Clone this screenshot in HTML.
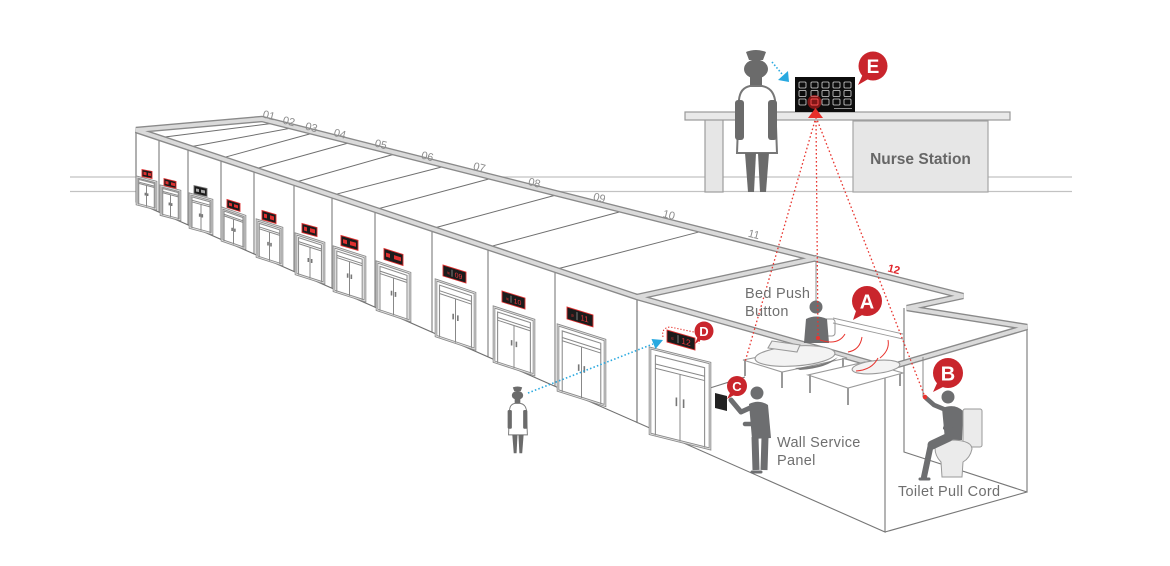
<!DOCTYPE html>
<html><head><meta charset="utf-8"><style>
html,body{margin:0;padding:0;background:#fff;}
svg{display:block;font-family:"Liberation Sans",sans-serif;}
</style></head><body>
<svg width="1170" height="566" viewBox="0 0 1170 566" xmlns="http://www.w3.org/2000/svg">
<defs>
<g id="door">
<rect x="0" y="0" width="1" height="1" fill="#fff" stroke="#8a8a8a" stroke-width="2.6" vector-effect="non-scaling-stroke"/>
<rect x="0" y="0" width="1" height="1" fill="none" stroke="#e2e2e2" stroke-width="0.9" vector-effect="non-scaling-stroke"/>
<path d="M0.09,1V0.07H0.91V1" fill="none" stroke="#8f8f8f" stroke-width="1.1" vector-effect="non-scaling-stroke"/>
<path d="M0.09,0.17H0.91M0.09,0.22H0.91M0.5,0.22V1" fill="none" stroke="#888" stroke-width="1" vector-effect="non-scaling-stroke"/>
<path d="M0.44,0.5V0.6M0.56,0.5V0.6" stroke="#777" stroke-width="1.6" vector-effect="non-scaling-stroke"/>
</g>
<g id="nurse">
<path d="M746,52 Q756,48 766,52 L763,60 L749,60 Z" fill="#6b6b6b"/>
<ellipse cx="756" cy="69" rx="12" ry="9.5" fill="#6b6b6b"/>
<rect x="750" y="75" width="12" height="11" fill="#6b6b6b"/>
<path d="M737,153 L739,100 Q740,88 750,86 L762,86 Q773,88 775,100 L777,153 Z" fill="#fff" stroke="#777" stroke-width="2"/>
<rect x="735" y="100" width="9" height="40" rx="3" fill="#6b6b6b"/>
<rect x="768" y="100" width="9" height="40" rx="3" fill="#6b6b6b"/>
<polygon points="745,153 756,153 754,192 748,192" fill="#6b6b6b"/>
<polygon points="758,153 769,153 766,192 760,192" fill="#6b6b6b"/>
</g>
</defs>

<!-- horizon lines -->
<path d="M70,177H1072M70,191.5H1072" stroke="#c2c2c2" stroke-width="1.2"/>

<!-- nurse station -->
<rect x="705" y="119" width="18" height="73" fill="#e6e6e6" stroke="#9d9d9d" stroke-width="1.2"/>
<rect x="853" y="121" width="135" height="71" fill="#e6e6e6" stroke="#a5a5a5" stroke-width="1.2"/>
<text x="920.5" y="164" font-size="15.5" font-weight="bold" fill="#666" text-anchor="middle">Nurse Station</text>
<rect x="685" y="112" width="325" height="8" fill="#e9e9e9" stroke="#999" stroke-width="1.2"/>
<use href="#nurse"/>
<!-- monitor -->
<rect x="795" y="77" width="60" height="35" fill="#0d0d0d"/>
<g fill="none" stroke="#d8d8d8" stroke-width="0.8">
<rect x="799" y="82" width="7" height="6" rx="1"/><rect x="811" y="82" width="7" height="6" rx="1"/><rect x="822" y="82" width="7" height="6" rx="1"/><rect x="833" y="82" width="7" height="6" rx="1"/><rect x="844" y="82" width="7" height="6" rx="1"/>
<rect x="799" y="90.5" width="7" height="6" rx="1"/><rect x="811" y="90.5" width="7" height="6" rx="1"/><rect x="822" y="90.5" width="7" height="6" rx="1"/><rect x="833" y="90.5" width="7" height="6" rx="1"/><rect x="844" y="90.5" width="7" height="6" rx="1"/>
<rect x="799" y="99" width="7" height="6" rx="1"/><rect x="822" y="99" width="7" height="6" rx="1"/><rect x="833" y="99" width="7" height="6" rx="1"/><rect x="844" y="99" width="7" height="6" rx="1"/>
</g>
<circle cx="814.5" cy="102" r="7" fill="#e02020" opacity="0.55"/>
<rect x="811" y="99" width="7" height="6" rx="1" fill="none" stroke="#ff5050" stroke-width="0.9"/>
<path d="M834,108.5H852" stroke="#bbb" stroke-width="0.8"/>
<polygon points="808,118 823,118 815.5,108" fill="#e8302b"/>
<!-- blue arrow top -->
<path d="M772,62 L782,74" stroke="#29a9e0" stroke-width="1.6" stroke-dasharray="1.5 2"/>
<polygon points="789,82 778,80 788,71" fill="#29a9e0"/>
<!-- bubble E -->
<circle cx="873" cy="66" r="14.5" fill="#c9252c"/>
<polygon points="863,74 870,78 858,85" fill="#c9252c"/>
<text x="873" y="73" font-size="19" font-weight="bold" fill="#fff" text-anchor="middle">E</text>

<!-- corridor building -->
<polygon points="136,130 637,297 637,422.4 136,202" fill="#fff" stroke="#6f6f6f" stroke-width="1.1"/>
<polygon points="136,130 262,119 817,258 637,297" fill="#fff"/>
<g stroke="#6f6f6f" stroke-width="1" fill="none">
<path d="M159,137.7L277,122.8M188,147.3L295,127.4M221,158.3L315,132.5M254,169.3L352,142M294,182.6L397,153.4M332,195.3L446,165.9M375,209.6L493,177.9M432,228.6L558,194.5M488,247.2L623,211M555,269.5L702,231.2"/>
<path d="M159,137.7V212.1M188,147.3V224.9M221,158.3V239.4M254,169.3V253.9M294,182.6V271.5M332,195.3V288.2M375,209.6V307.2M432,228.6V332.2M488,247.2V356.9M555,269.5V386.4"/>
</g>

<!-- room 12 walls -->
<g stroke="#777" stroke-width="1.1" fill="none">
<path d="M637,297V422.4L885,532V368"/>
<path d="M904,308V452L1027,492V327"/>
<path d="M885,532L1027,492"/>
<path d="M710,388L745,377"/>
<path d="M816,260V305" stroke="#999"/>
</g>

<!-- roof bands -->
<g fill="none" stroke-linejoin="miter">
<path d="M136,130L262,119L963,296L907,308L1027,327L887,368L637,297Z M637,297L817,258" stroke="#8a8a8a" stroke-width="6.5"/>
<path d="M136,130L262,119L963,296L907,308L1027,327L887,368L637,297Z M637,297L817,258" stroke="#dadada" stroke-width="3.8"/>
</g>

<!-- doors -->
<use href="#door" transform="matrix(19,5,0,27.1,137,177)"/>
<use href="#door" transform="matrix(19,5,0,28.7,161,186)"/>
<use href="#door" transform="matrix(22,6,0,33.6,190,194)"/>
<use href="#door" transform="matrix(23,8,0,32.4,222,208)"/>
<use href="#door" transform="matrix(25,8,0,36.7,257,220)"/>
<use href="#door" transform="matrix(28,9,0,40,296,234)"/>
<use href="#door" transform="matrix(31,10,0,43.9,334,247)"/>
<use href="#door" transform="matrix(33,11,0,47.8,377,262)"/>
<use href="#door" transform="matrix(39,13,0,56.1,436,280)"/>
<use href="#door" transform="matrix(40,13,0,54.7,494,307)"/>
<use href="#door" transform="matrix(47,15,0,65.5,558,325)"/>
<use href="#door" transform="matrix(60,15,0,85.9,650,348)"/>

<!-- signs -->
<g stroke="#e03030" stroke-width="0.9" fill="#1b1b1b">
<g transform="translate(142,169.5) skewY(11)"><rect width="10" height="7"/><rect x="1.5" y="2" width="3" height="3" fill="#e03030" stroke="none"/><rect x="6" y="2" width="3" height="3" fill="#e03030" stroke="none"/></g>
<g transform="translate(164,178.5) skewY(14)"><rect width="12" height="7"/><rect x="1.5" y="2" width="3" height="3" fill="#e03030" stroke="none"/><rect x="7" y="2" width="4" height="3" fill="#e03030" stroke="none"/></g>
<g transform="translate(194,185.5) skewY(13)"><rect width="13" height="8" stroke="#777"/><rect x="2" y="2.5" width="3" height="3" fill="#aaa" stroke="none"/><rect x="7" y="2.5" width="4" height="3" fill="#aaa" stroke="none"/></g>
<g transform="translate(227,199.5) skewY(17)"><rect width="13" height="8"/><rect x="2" y="2.5" width="3" height="3" fill="#e03030" stroke="none"/><rect x="7" y="2.5" width="4" height="3" fill="#e03030" stroke="none"/></g>
<g transform="translate(262,210.5) skewY(16)"><rect width="14" height="9"/><rect x="2" y="2.5" width="3" height="4" fill="#e03030" stroke="none"/><rect x="8" y="2.5" width="4" height="4" fill="#e03030" stroke="none"/></g>
<g transform="translate(302,223.5) skewY(15)"><rect width="15" height="9"/><rect x="2" y="2.5" width="3" height="4" fill="#e03030" stroke="none"/><rect x="8" y="2.5" width="5" height="4" fill="#e03030" stroke="none"/></g>
<g transform="translate(341,235.5) skewY(16)"><rect width="17" height="10"/><rect x="2" y="3" width="4" height="4" fill="#e03030" stroke="none"/><rect x="9" y="3" width="6" height="4" fill="#e03030" stroke="none"/></g>
<g transform="translate(384,248.5) skewY(17.5)"><rect width="19" height="11"/><rect x="2" y="3.5" width="4" height="4" fill="#e03030" stroke="none"/><rect x="10" y="3.5" width="7" height="4" fill="#e03030" stroke="none"/></g>
<g transform="translate(443,265) skewY(17)"><rect width="23" height="11"/><text x="4" y="8" font-size="5" fill="#e03030" stroke="none">≡</text><path d="M9,2V9" stroke="#888"/><text x="15.5" y="8.5" font-size="7" fill="#e8383d" stroke="none" text-anchor="middle">09</text></g>
<g transform="translate(502,291) skewY(17)"><rect width="23" height="11"/><text x="4" y="8" font-size="5" fill="#e03030" stroke="none">≡</text><path d="M9,2V9" stroke="#888"/><text x="15.5" y="8.5" font-size="7" fill="#e8383d" stroke="none" text-anchor="middle">10</text></g>
<g transform="translate(567,307) skewY(17)"><rect width="26" height="12"/><text x="4" y="8.5" font-size="5" fill="#e03030" stroke="none">≡</text><path d="M10,2V10" stroke="#888"/><text x="17.5" y="9" font-size="8" fill="#e8383d" stroke="none" text-anchor="middle">11</text></g>
<g transform="translate(667,330) skewY(16)"><rect width="28" height="12"/><text x="4" y="8.5" font-size="5" fill="#e03030" stroke="none">≡</text><path d="M11,2V10" stroke="#888"/><text x="19" y="9.3" font-size="8.5" fill="#e8383d" stroke="none" text-anchor="middle">12</text></g>
</g>
<path d="M663,337 Q661,328 670,327 L694,332 Q701,335 699,344" fill="none" stroke="#e8352f" stroke-width="1.1" stroke-dasharray="1.3 1.8"/>

<!-- room numbers -->
<g font-size="11" fill="#8c8c8c" text-anchor="middle">
<text x="269" y="119" transform="rotate(14 269 115)">01</text>
<text x="289" y="125" transform="rotate(14 289 121)">02</text>
<text x="311.5" y="131" transform="rotate(14 311.5 127)">03</text>
<text x="340" y="137.5" transform="rotate(14 340 133.5)">04</text>
<text x="381" y="148" transform="rotate(14 381 144)">05</text>
<text x="427.5" y="160" transform="rotate(14 427.5 156)">06</text>
<text x="479.5" y="171" transform="rotate(14 479.5 167)">07</text>
<text x="534.5" y="186.5" transform="rotate(14 534.5 182.5)">08</text>
<text x="599.5" y="201.5" transform="rotate(14 599.5 197.5)">09</text>
<text x="669" y="218.5" transform="rotate(14 669 214.5)">10</text>
<text x="754" y="238" transform="rotate(14 754 234)">11</text>
<text x="894" y="273" transform="rotate(14 894 269)" fill="#e0262b" font-weight="bold">12</text>
</g>

<!-- beds -->
<g stroke="#9a9a9a" stroke-width="1.1" fill="#fff">
<polygon points="743,360 782,372 847,358 810,347"/>
<path d="M745,360V376M782,372V388M843,358V370" fill="none" stroke-width="2"/>
<ellipse cx="795" cy="356" rx="40" ry="10" transform="rotate(-4 795 356)" fill="#f3f3f3"/>
<path d="M772,341 L800,345 L797,352 L768,348 Z" fill="#eee"/>
<path d="M833,318 L903,334 M833,323 L903,339" fill="none" stroke-width="0.9"/>
<rect x="822" y="319" width="13" height="17" rx="3" fill="none"/>
<polygon points="808,375 848,388 903,373 865,362"/>
<path d="M810,375V393M848,388V405M900,374V386" fill="none" stroke-width="2"/>
<ellipse cx="876" cy="367" rx="24" ry="6.5" transform="rotate(-6 876 367)" fill="#f3f3f3"/>
</g>
<path d="M795,368 Q825,366 838,357 Q828,368 800,370 Z" fill="#7a7a7a"/>
<!-- people -->
<g fill="#6d6e70">
<circle cx="816" cy="307" r="6.5"/>
<path d="M806,319 Q816,314 827,319 L829,343 L804,343 Z"/>
<circle cx="757" cy="393" r="6.5"/>
<path d="M749,404 Q759,399 768,405 L771,438 L752,439 Z"/>
<circle cx="948" cy="397" r="6.5"/>
<path d="M942,408 Q955,403 963,411 L962,440 L945,440 Z"/>
</g>
<g stroke="#6d6e70" fill="none" stroke-linecap="round" stroke-linejoin="round">
<path d="M809,325 L812,336 L818,338" stroke-width="4"/>
<path d="M752,407 L741,412 L731,400" stroke-width="5"/>
<path d="M760,410 L756,424 L745,424" stroke-width="4.5"/>
<path d="M755,437 L756,470 M765,437 L764,470" stroke-width="7" stroke-linecap="butt"/>
<path d="M752,472 H761" stroke-width="3"/>
<path d="M946,410 L934,405 L926,398" stroke-width="4.5"/>
<path d="M950,416 L945,428 L955,430" stroke-width="4"/>
</g>
<!-- toilet -->
<rect x="963" y="409" width="19" height="38" rx="2" fill="#ebebeb" stroke="#999"/>
<path d="M935,448 Q936,440 954,440 Q972,441 972,449 Q970,458 963,462 L962,477 L942,477 L941,462 Q935,456 935,448 Z" fill="#ebebeb" stroke="#999"/>
<path d="M949,437 L932,445" stroke="#6d6e70" stroke-width="9" stroke-linecap="round" fill="none"/>
<path d="M931,444 L924,477" stroke="#6d6e70" stroke-width="6" stroke-linecap="round" fill="none"/>
<path d="M920,479 L929,479" stroke="#6d6e70" stroke-width="3" stroke-linecap="round"/>
<!-- wall panel -->
<polygon points="715,393 727,396 727,411 715,408" fill="#222"/>
<!-- pull cord -->
<path d="M923,357V397" stroke="#888" stroke-width="1"/>

<!-- red small arrows -->
<g stroke="#e8352f" stroke-width="1" fill="none">
<path d="M820,340 Q838,346 845,334"/>
<path d="M848,352 Q860,350 862,337"/>
<path d="M856,371 Q872,370 878,358"/>
<path d="M880,358 Q890,350 888,340"/>
</g>

<!-- red dotted lines -->
<path d="M816,117 L745,362 M816,117 L818,338 M816,117 L925,397" stroke="#e8352f" stroke-width="1.3" stroke-dasharray="1.6 2.4" fill="none"/>
<circle cx="818" cy="338" r="2" fill="#e8352f"/>
<circle cx="925" cy="397" r="2.3" fill="#e8352f"/>

<!-- small nurse + blue arrow -->
<use href="#nurse" transform="translate(517.5,386) scale(0.47) translate(-756,-49)"/>
<path d="M528,393 L653,344" stroke="#29a9e0" stroke-width="1.6" stroke-dasharray="1.5 2.2"/>
<polygon points="663,340 655.5,349 651.5,339" fill="#29a9e0"/>

<!-- bubbles -->
<g fill="#c9252c">
<circle cx="867" cy="301" r="15"/><polygon points="857,308 864,314 853,320"/>
<circle cx="948" cy="373" r="15"/><polygon points="938,381 945,386 933,392"/>
<circle cx="737" cy="386" r="10"/><polygon points="731,391 736,394 727,399"/>
<circle cx="704" cy="331" r="9.5"/><polygon points="698,336 702,339 695,344"/>
</g>
<g fill="#fff" font-weight="bold" text-anchor="middle">
<text x="867" y="308.5" font-size="20">A</text>
<text x="948" y="380.5" font-size="20">B</text>
<text x="737" y="391" font-size="13">C</text>
<text x="704" y="336" font-size="13">D</text>
</g>

<!-- labels -->
<g font-size="14.5" fill="#6f6f6f" letter-spacing="0.3">
<text x="745" y="298">Bed Push</text>
<text x="745" y="316">Button</text>
<text x="777" y="447">Wall Service</text>
<text x="777" y="465">Panel</text>
<text x="898" y="496">Toilet Pull Cord</text>
</g>
</svg>
</body></html>
